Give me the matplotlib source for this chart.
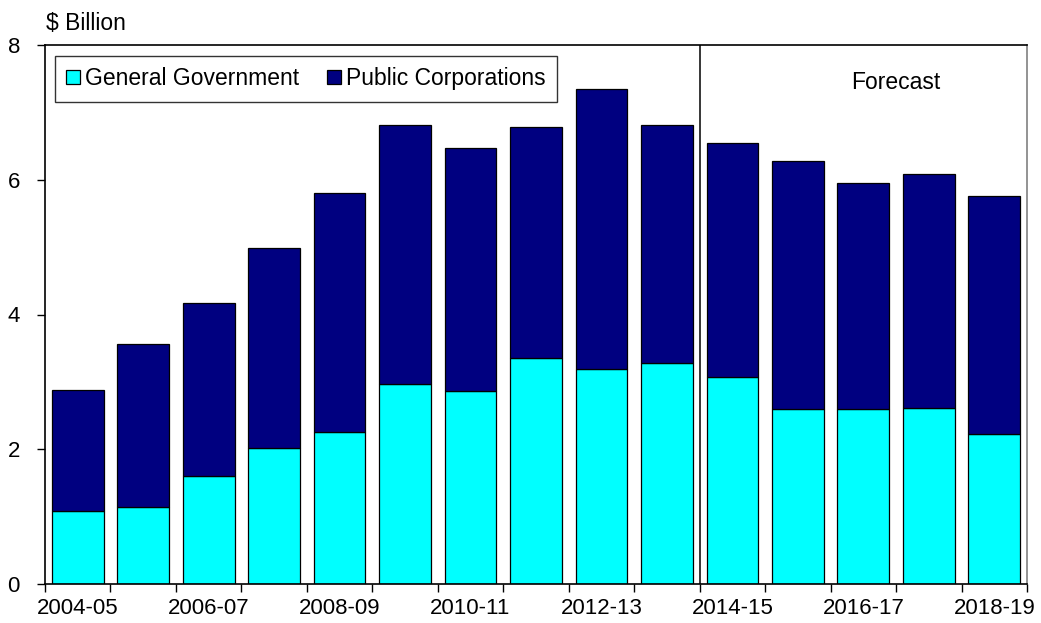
import matplotlib
matplotlib.use("Agg")
import matplotlib.pyplot as plt
import numpy as np

plt.rcParams['font.family'] = ['Liberation Sans', 'DejaVu Sans']

years = ["2004-05", "2005-06", "2006-07", "2007-08", "2008-09", "2009-10",
         "2010-11", "2011-12", "2012-13", "2013-14", "2014-15", "2015-16",
         "2016-17", "2017-18", "2018-19"]
general_gov = [1.08, 1.14, 1.60, 2.02, 2.26, 2.97, 2.86, 3.35, 3.19, 3.28,
               3.07, 2.60, 2.60, 2.61, 2.23]
totals = [2.88, 3.56, 4.17, 4.99, 5.80, 6.81, 6.47, 6.78, 7.35, 6.81,
          6.55, 6.28, 5.95, 6.09, 5.76]
public_corp = [t - g for t, g in zip(totals, general_gov)]
forecast_start = 10  # index of first forecast year

fig = plt.figure(figsize=(10.41, 6.23), dpi=100)
ax = fig.add_axes([45 / 1041, 1 - 584 / 623, 982 / 1041, 539 / 623])

x = np.arange(len(years))
w = 0.79
ax.bar(x, general_gov, width=w, color="#00FFFF", edgecolor="black",
       linewidth=0.9, label="General Government")
ax.bar(x, public_corp, width=w, bottom=general_gov, color="#000080",
       edgecolor="black", linewidth=0.9, label="Public Corporations")

ax.set_xlim(-0.5, len(years) - 0.5)
ax.set_ylim(0, 8)
ax.set_yticks([0, 2, 4, 6, 8])
ax.tick_params(axis='y', labelsize=16, length=6, width=1, direction='out', pad=12)

# ticks at category boundaries, labels on every other category
ax.set_xticks(np.arange(len(years) + 1) - 0.5)
ax.set_xticklabels([])
ax.tick_params(axis='x', length=6, width=1, direction='out')
ax.set_xticks(x[::2], minor=True)
ax.set_xticklabels(years[::2], minor=True, fontsize=16)
ax.tick_params(axis='x', which='minor', length=0, pad=10)

for s in ax.spines.values():
    s.set_linewidth(1.2)
ax.spines['right'].set_color("#808080")

ax.axvline(forecast_start - 0.5, color="black", linewidth=1.1)
ax.text(12.5, 7.44, "Forecast", fontsize=16.5, ha='center', va='center')

fig.text(46 / 1041, 1 - 24 / 623, "$ Billion", fontsize=16.5, ha='left', va='center')

leg = ax.legend(loc='upper left', bbox_to_anchor=(0.010, 0.98), ncol=2,
                fontsize=16.5, frameon=True, fancybox=False, edgecolor="black",
                handlelength=0.6, handleheight=0.6, handletextpad=0.2,
                columnspacing=1.25, borderpad=0.5, borderaxespad=0.0)
leg.get_frame().set_linewidth(1.0)

fig.savefig("out.png", dpi=100)
